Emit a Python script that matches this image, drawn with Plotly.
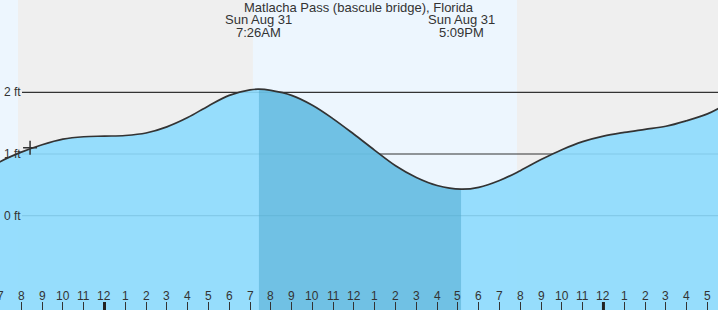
import plotly.graph_objects as go

# ---- data (hours relative to midnight, Sun Aug 31) ----
hours = [-5.1, -5, -4, -3, -2, -1, 0, 1, 2, 3, 4, 5, 6, 7, 7.43, 8, 9, 10, 11, 12, 13, 14,
         15, 16, 17.15, 18, 19, 20, 21, 22, 23, 24, 25, 26, 27, 28, 29, 29.6]
heights = [0.86, 0.88, 1.03, 1.15, 1.24, 1.28, 1.29, 1.30, 1.34, 1.44, 1.59, 1.78, 1.95, 2.04, 2.05,
           2.03, 1.95, 1.79, 1.57, 1.32, 1.06, 0.81, 0.62, 0.49, 0.43, 0.46, 0.57, 0.73, 0.91,
           1.07, 1.20, 1.29, 1.35, 1.40, 1.45, 1.54, 1.65, 1.75]

high_time, low_time = 7.43, 17.15
tide_dates = ["Sun Aug 31", "Sun Aug 31"]
tide_labels = ["7:26AM", "5:09PM"]
now_time, now_height = -3.58, 1.10

tick_hours = list(range(-5, 30))
tick_labels = ["7", "8", "9", "10", "11", "12", "1", "2", "3", "4", "5", "6", "7", "8", "9", "10",
               "11", "12", "1", "2", "3", "4", "5", "6", "7", "8", "9", "10", "11", "12", "1",
               "2", "3", "4", "5"]
midnights = [0, 24]
day_spans = [(-6.0, -4.16), (7.14, 19.84)]
level_ticks = [2, 1, 0]
level_labels = ["2 ft", "1 ft", "0 ft"]
title = "Matlacha Pass (bascule bridge), Florida"

W, H = 718, 310
XR = [-5.026, 29.51]
YR = [-1.528, 3.496]
TXT = "#333333"
FONT = "Liberation Sans, Arial, sans-serif"

fig = go.Figure()

# water fill
fig.add_trace(go.Scatter(x=hours, y=[-3] * len(hours), mode="lines", line=dict(width=0),
                         hoverinfo="skip", showlegend=False))
fig.add_trace(go.Scatter(x=hours, y=heights, mode="lines", fill="tonexty",
                         fillcolor="rgba(140,218,253,0.9)", line=dict(width=0, shape="spline"),
                         hoverinfo="skip", showlegend=False))
# darker falling-tide segment
seg = [(h, v) for h, v in zip(hours, heights) if high_time <= h <= low_time]
sx = [p[0] for p in seg]
sy = [p[1] for p in seg]
fig.add_trace(go.Scatter(x=sx, y=[-3] * len(sx), mode="lines", line=dict(width=0),
                         hoverinfo="skip", showlegend=False))
fig.add_trace(go.Scatter(x=sx, y=sy, mode="lines", fill="tonexty",
                         fillcolor="rgba(74,166,204,0.5)", line=dict(width=0, shape="spline"),
                         hoverinfo="skip", showlegend=False))
# outline
fig.add_trace(go.Scatter(x=hours, y=heights, mode="lines",
                         line=dict(color="#333333", width=1.7, shape="spline"),
                         hoverinfo="skip", showlegend=False))
# now marker
fig.add_trace(go.Scatter(x=[now_time], y=[now_height], mode="markers",
                         marker=dict(symbol="cross-thin", size=10,
                                     line=dict(color="#333333", width=1.5)),
                         hoverinfo="skip", showlegend=False))

shapes = []
for a, b in day_spans:
    shapes.append(dict(type="rect", xref="x", yref="paper", x0=a, x1=b, y0=0, y1=1,
                       fillcolor="#edf6fe", line=dict(width=0), layer="below"))
for lv in level_ticks:
    shapes.append(dict(type="line", xref="paper", yref="y", x0=22 / W, x1=1, y0=lv, y1=lv,
                       line=dict(color="#333333", width=1.2), layer="below"))
for m in midnights:
    shapes.append(dict(type="line", xref="x", yref="paper", x0=m, x1=m, y0=0, y1=8 / H,
                       line=dict(color="#222222", width=3)))

ann = []
ann.append(dict(text=title, xref="paper", yref="paper", x=0.5, y=1, yshift=-7,
                xanchor="center", yanchor="middle", showarrow=False,
                font=dict(size=13, color=TXT, family=FONT)))
for t, d, l in zip([high_time, low_time], tide_dates, tide_labels):
    ann.append(dict(text=d, xref="x", yref="paper", x=t, y=1, yshift=-19.5,
                    xanchor="center", yanchor="middle", showarrow=False,
                    font=dict(size=13, color=TXT, family=FONT)))
    ann.append(dict(text=l, xref="x", yref="paper", x=t, y=1, yshift=-32,
                    xanchor="center", yanchor="middle", showarrow=False,
                    font=dict(size=13, color=TXT, family=FONT)))
for lv, lab in zip(level_ticks, level_labels):
    ann.append(dict(text=lab, xref="paper", yref="y", x=0, xshift=2, y=lv,
                    xanchor="left", yanchor="middle", showarrow=False,
                    font=dict(size=12, color=TXT, family=FONT)))
for h, lab in zip(tick_hours, tick_labels):
    ann.append(dict(text=lab, xref="x", yref="paper", x=h, y=0, yshift=14.5,
                    xanchor="center", yanchor="middle", showarrow=False,
                    font=dict(size=12, color=TXT, family=FONT)))

fig.update_layout(
    width=W, height=H, margin=dict(l=0, r=0, t=0, b=0),
    paper_bgcolor="#efefef", plot_bgcolor="#efefef",
    xaxis=dict(range=XR, showgrid=False, zeroline=False, showline=False,
               tickvals=tick_hours, ticks="inside", ticklen=8, tickwidth=1,
               tickcolor="#333333", showticklabels=False, fixedrange=True),
    yaxis=dict(range=YR, showgrid=False, zeroline=False, showline=False,
               showticklabels=False, ticks="", fixedrange=True),
    shapes=shapes, annotations=ann, showlegend=False,
)

fig.write_html("out.html", config={"displayModeBar": False})
